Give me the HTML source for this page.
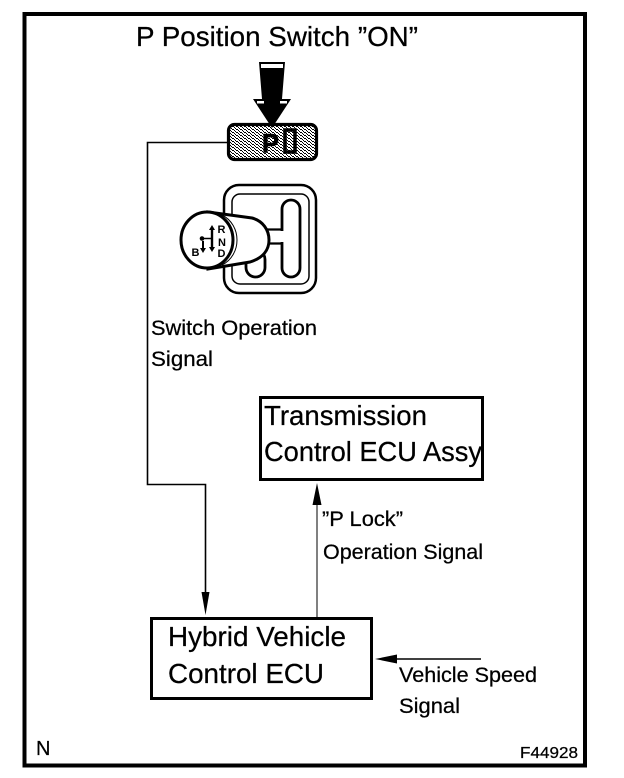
<!DOCTYPE html>
<html><head><meta charset="utf-8"><style>
html,body{margin:0;padding:0;background:#fff}
svg{display:block}
text{font-family:"Liberation Sans",sans-serif;fill:#000;stroke:#000;stroke-width:.25}
</style></head><body>
<svg width="624" height="778" viewBox="0 0 624 778" xmlns="http://www.w3.org/2000/svg">
<defs>
<pattern id="st" width="4" height="3" patternUnits="userSpaceOnUse">
<rect width="4" height="3" fill="#fff"/><rect x="0" y="0" width="2" height="1" fill="#000"/><rect x="2" y="1" width="1" height="1" fill="#000"/><rect x="3" y="2" width="1" height="1" fill="#000"/>
</pattern>
</defs>
<rect width="624" height="778" fill="#fff"/>
<rect x="24.500" y="14" width="560.500" height="751.500" fill="none" stroke="#000" stroke-width="4"/>
<text x="136" y="46" font-size="27.500" textLength="282" lengthAdjust="spacingAndGlyphs">P Position Switch ”ON”</text>

<!-- switch -->
<rect x="228.500" y="124.500" width="88" height="35" rx="6" fill="url(#st)" stroke="#000" stroke-width="3.200"/>
<text x="262" y="152.500" font-size="27" font-weight="bold" style="stroke-width:.6" textLength="17" lengthAdjust="spacingAndGlyphs">P</text>
<rect x="285" y="130" width="10" height="22" fill="url(#st)" stroke="#000" stroke-width="3.500"/>
<!-- big arrow -->
<path d="M259 62H285L282 99H291L272 128L253 99H262Z" fill="#000"/>
<rect x="261" y="64" width="22" height="4" fill="#fff"/>
<rect x="257" y="101" width="7" height="2.500" fill="#fff"/>
<rect x="280" y="101" width="7" height="2.500" fill="#fff"/>
<!-- connector -->
<path d="M228 142.500H147.500V484.500H205.500V596" fill="none" stroke="#000" stroke-width="1.600"/>
<path d="M201.500 592H209.500L205.500 615Z" fill="#000"/>

<!-- shifter -->
<rect x="224" y="185" width="92" height="108" rx="15" fill="#fff" stroke="#000" stroke-width="2.500"/>
<rect x="232" y="194" width="77" height="90" rx="8" fill="#fff" stroke="#000" stroke-width="1.500"/>
<rect x="282" y="200" width="18" height="77" rx="9" fill="#fff" stroke="#000" stroke-width="2.800"/>
<path d="M262 229.500H283M262 243.500H283" stroke="#000" stroke-width="2.200"/>
<rect x="276" y="231" width="9" height="11" fill="#fff"/>
<rect x="246" y="250" width="19" height="27" rx="9.500" fill="#fff" stroke="#000" stroke-width="2.800"/>
<path d="M208 212 L252 218 C263 221 269 230 269 240 C269 250 263 258 250 262 L208 269 Z" fill="#fff" stroke="#000" stroke-width="3"/>
<path d="M222 215C232 220 237 230 237 240C237 250 232 260 222 265" fill="none" stroke="#000" stroke-width="1"/>
<ellipse cx="207" cy="240" rx="26" ry="28" fill="#fff" stroke="#000" stroke-width="3"/>
<text x="217.500" y="233" font-size="11" font-weight="bold" style="stroke-width:0">R</text>
<text x="218" y="246" font-size="11" font-weight="bold" style="stroke-width:0">N</text>
<text x="217.500" y="257" font-size="11" font-weight="bold" style="stroke-width:0">D</text>
<text x="191.500" y="256" font-size="11" font-weight="bold" style="stroke-width:0">B</text>
<path d="M212 228V250" stroke="#000" stroke-width="2.400"/>
<path d="M209 230L212 225L215 230ZM209 247L212 252L215 247Z" fill="#000"/>
<circle cx="202" cy="238.500" r="2.300" fill="#000"/>
<path d="M202 238.500H212" stroke="#000" stroke-width="1.500"/>
<path d="M203 241V249" stroke="#000" stroke-width="2"/>
<path d="M200 248L203 253L206 248Z" fill="#000"/>

<text x="151" y="335" font-size="21.500" textLength="166" lengthAdjust="spacingAndGlyphs">Switch Operation</text>
<text x="151" y="366" font-size="21.500" textLength="62" lengthAdjust="spacingAndGlyphs">Signal</text>

<!-- Transmission box -->
<rect x="260.500" y="397.500" width="222" height="82" fill="#fff" stroke="#000" stroke-width="3"/>
<text x="264" y="425" font-size="27.500" textLength="163" lengthAdjust="spacingAndGlyphs">Transmission</text>
<text x="264" y="461" font-size="27.500" textLength="218" lengthAdjust="spacingAndGlyphs">Control ECU Assy</text>

<!-- up arrow -->
<path d="M317 505V617" stroke="#000" stroke-width="1"/>
<path d="M312.500 505H321.500L317 483Z" fill="#000"/>
<text x="322" y="526" font-size="21" textLength="81" lengthAdjust="spacingAndGlyphs">”P Lock”</text>
<text x="323" y="559" font-size="21" textLength="160" lengthAdjust="spacingAndGlyphs">Operation Signal</text>

<!-- Hybrid box -->
<rect x="151.500" y="618.500" width="220" height="80" fill="#fff" stroke="#000" stroke-width="3"/>
<text x="168" y="646" font-size="27.500" textLength="178" lengthAdjust="spacingAndGlyphs">Hybrid Vehicle</text>
<text x="168" y="683" font-size="27.500" textLength="156" lengthAdjust="spacingAndGlyphs">Control ECU</text>

<!-- speed arrow -->
<path d="M397 659H481" stroke="#000" stroke-width="1.500"/>
<path d="M397 654.500V663.500L375 659Z" fill="#000"/>
<text x="399" y="682" font-size="21.500" textLength="138" lengthAdjust="spacingAndGlyphs">Vehicle Speed</text>
<text x="399" y="713" font-size="21.500" textLength="61" lengthAdjust="spacingAndGlyphs">Signal</text>

<text x="36" y="755" font-size="20">N</text>
<text x="520" y="758" font-size="16" textLength="58" lengthAdjust="spacingAndGlyphs">F44928</text>
</svg>
</body></html>
